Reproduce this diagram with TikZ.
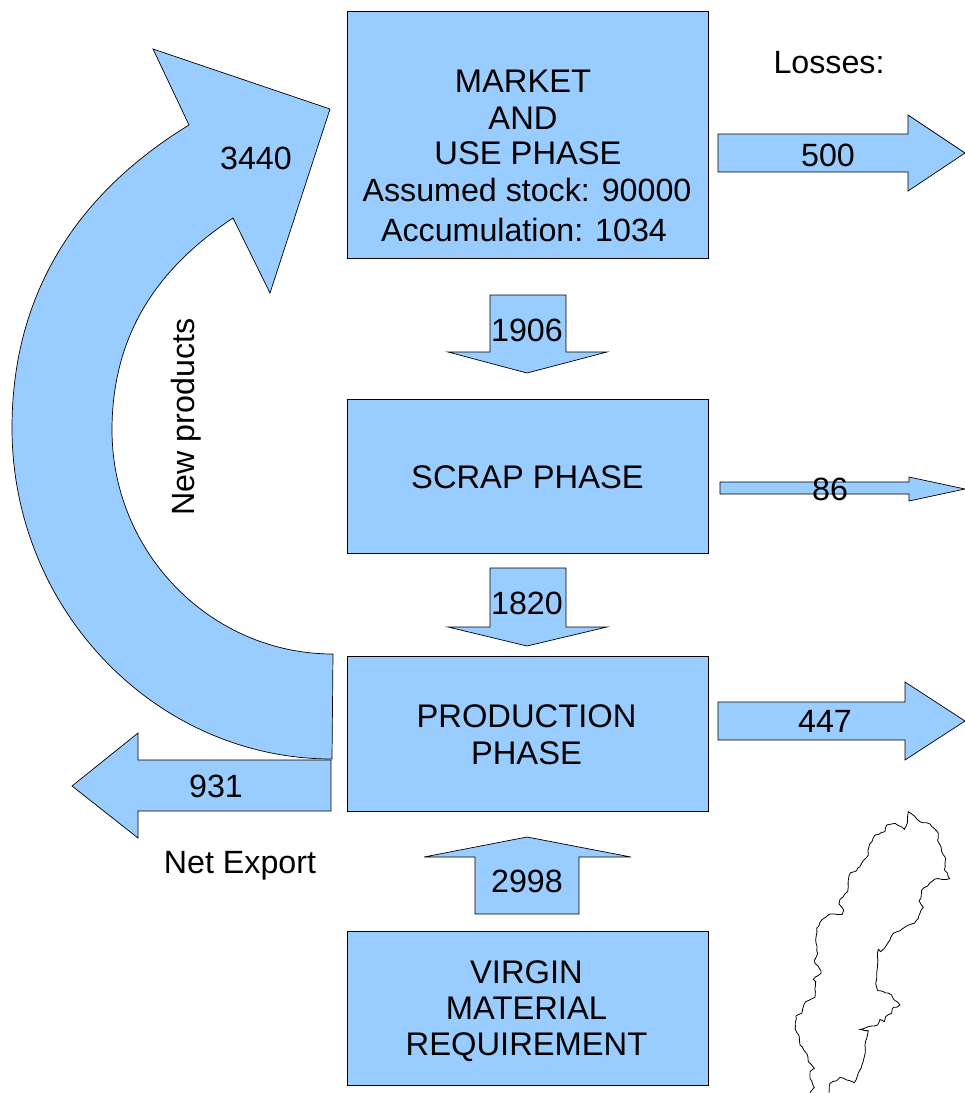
\documentclass[tikz,border=0pt]{standalone}
\usepackage{fontspec}
\setmainfont{Liberation Sans}
\usetikzlibrary{calc,decorations.pathmorphing}
\definecolor{flowblue}{HTML}{99CCFF}
\tikzstyle{phase}=[draw, fill=flowblue, line width=0.7pt, minimum width=361pt]
\tikzstyle{flow}=[draw, fill=flowblue, line width=0.7pt, line join=miter]
\tikzstyle{lbl}=[inner sep=0pt, align=center]
\tikzstyle{caps}=[lbl, font=\capstext]
\newcommand{\bigtext}{\fontsize{32.2}{36}\selectfont}
\newcommand{\capstext}{\fontsize{32.7}{36}\selectfont}

\begin{document}
\begin{tikzpicture}[x=1pt,y=-1pt,node distance=100pt,font=\bigtext]
      \useasboundingbox (0,0) rectangle (965,1093);

      % phase boxes
      \node [phase, minimum height=247pt] (market) at (527.5,134.5) {};
      \node [phase, minimum height=154pt] (scrap) [below of=market, node distance=341.5pt] {};
      \node [phase, minimum height=155pt] (production) [below of=scrap, node distance=257.5pt] {};
      \node [phase, minimum height=154pt] (virgin) [below of=production, node distance=274.5pt] {};

      \node [caps] (market1) at (523,81) {MARKET};
      \node [caps] (market2) at (523,118) {AND};
      \node [caps] (market3) at (528,153) {USE PHASE};
      \node [lbl] (market4) at (527,190) {Assumed stock: 90000};
      \node [lbl] (market5) at (524,230) {Accumulation: 1034};
      \node [caps] (scraptext) at ($(scrap)+(0,1)$) {SCRAP PHASE};
      \node [caps] (productiontext) at ($(production)+(-1,1)$) {PRODUCTION\\[0.5pt]PHASE};
      \node [caps] (virgintext) at ($(virgin)+(-1,3)$) {VIRGIN\\MATERIAL\\REQUIREMENT};

      % straight flows
      \draw [flow] (718,134) -- (908,134) -- (908,115) -- (965,153) -- (908,191) -- (908,172) -- (718,172) -- cycle;
      \draw [flow] (720,482) -- (909,482) -- (909,477) -- (965,489) -- (909,501) -- (909,494) -- (720,494) -- cycle;
      \draw [flow] (718,702) -- (905,702) -- (905,682) -- (965,721) -- (905,760) -- (905,740) -- (718,740) -- cycle;
      \draw [flow] (490,295) -- (566,295) -- (566,352) -- (607,352) -- (527,373) -- (448,352) -- (490,352) -- cycle;
      \draw [flow] (490,568) -- (566,568) -- (566,627) -- (607,627) -- (527,646) -- (448,627) -- (490,627) -- cycle;
      \draw [flow] (475,914) -- (579,914) -- (579,857) -- (631,857) -- (527,837) -- (424,857) -- (475,857) -- cycle;
      \draw [flow] (331,760) -- (138,760) -- (138,733) -- (72,786) -- (138,838) -- (138,811) -- (331,811) -- cycle;

      % curved flow, new products
      \draw [flow] (333,654) -- (332,759)
        .. controls (156,759) and (12,610) .. (12,428)
        .. controls (12,268) and (104,177) .. (189,125)
        -- (153,49) -- (330,109) -- (270,293) -- (233,218)
        .. controls (173,258) and (112,320) .. (112,430)
        .. controls (112,553) and (211,654) .. (333,654)
        -- cycle;

      \node [lbl] (n500) at (828,155) {500};
      \node [lbl] (n86) at (830,489) {86};
      \node [lbl] (n447) at (825,721) {447};
      \node [lbl] (n1906) at (527,330) {1906};
      \node [lbl] (n1820) at (527,603) {1820};
      \node [lbl] (n2998) at (527,881) {2998};
      \node [lbl] (n931) at (216,786) {931};
      \node [lbl] (n3440) at (256,158) {3440};
      \node [lbl] (losses) at (829,63) {Losses:};
      \node [lbl] (export) at (240,866) {Net Export};
      \node [lbl, rotate=90] (products) at (186,417) {New products};

      % map outline
      \begin{scope}[shift={(765,800)},x=0.3333pt,y=-0.3333pt,line width=0.8pt]
      \draw [decorate, decoration={random steps, segment length=3.5pt, amplitude=0.7pt}] (192,878) -- (195,850) -- (215,842) -- (225,832) -- (245,840) -- (268,848) -- (278,825) -- (288,805) -- (298,770) -- (300,735) -- (305,715) -- (310,692) -- (285,688) -- (310,680) -- (338,675) -- (345,658) -- (358,665) -- (362,650) -- (380,640) -- (385,622) -- (395,622) -- (405,615) -- (385,597) -- (380,585) -- (355,575) -- (338,572) -- (332,550) -- (335,520) -- (338,490) -- (340,448) -- (347,455) -- (358,445) -- (375,420) -- (385,400) -- (405,392) -- (425,378) -- (448,370) -- (460,355) -- (465,340) -- (475,322) -- (462,302) -- (468,295) -- (470,270) -- (488,258) -- (500,245) -- (510,237) -- (530,238) -- (554,236) -- (548,220) -- (538,210) -- (541,172) -- (530,155) -- (528,140) -- (518,122) -- (520,100) -- (517,95) -- (495,72) -- (472,68) -- (465,65) -- (440,42) -- (430,35) -- (428,65) -- (418,88) -- (390,70) -- (365,75) -- (360,95) -- (330,105) -- (312,140) -- (310,165) -- (290,190) -- (275,212) -- (257,218) -- (250,240) -- (248,275) -- (225,298) -- (222,312) -- (236,330) -- (232,343) -- (192,343) -- (170,360) -- (155,385) -- (152,420) -- (158,460) -- (148,482) -- (150,490) -- (168,512) -- (168,520) -- (145,538) -- (152,545) -- (150,592) -- (122,605) -- (110,640) -- (93,648) -- (90,685) -- (103,710) -- (105,735) -- (125,760) -- (130,785) -- (148,805) -- (135,815) -- (135,835) -- (148,862) -- (135,878);
      \end{scope}
\end{tikzpicture}
\end{document}
